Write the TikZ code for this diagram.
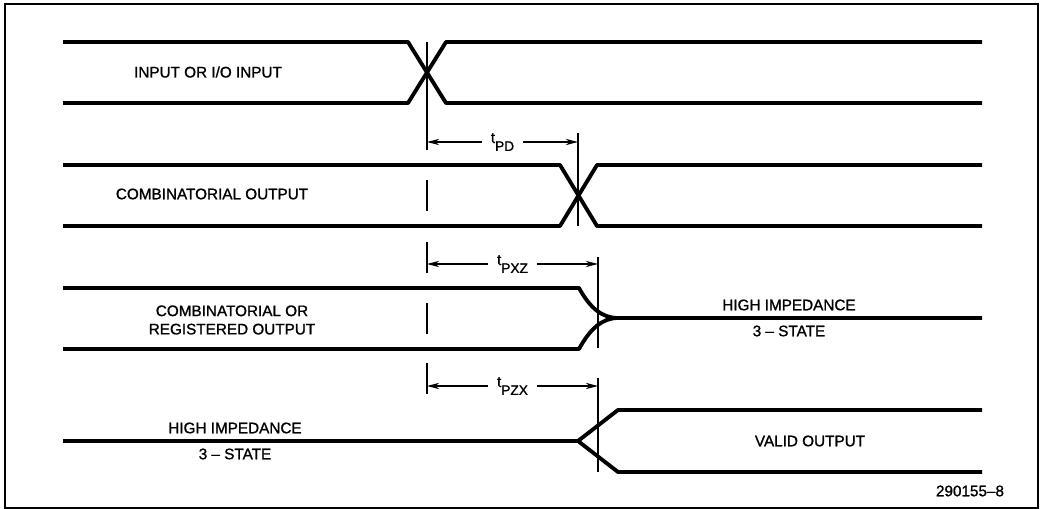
\documentclass[tikz,border=0pt]{standalone}
\usepackage{fontspec}
\setmainfont{Liberation Sans}
\newfontfamily\lblfont{Liberation Sans}[FakeBold=1.2, Ligatures=TeX]
\usetikzlibrary{arrows.meta}

\tikzset{
  sig/.style={line width=2.2pt, line join=round},
  mark line/.style={line width=0.8pt},
  dim/.style={line width=0.6pt, {Stealth[length=7pt,width=3.6pt]}-{Stealth[length=7pt,width=3.6pt]}},
  lbl/.style={font=\lblfont\fontsize{8.7}{10.4}\selectfont, inner sep=1pt, align=center},
  dimlbl/.style={lbl, fill=white, inner xsep=5pt},
}
\newcommand{\tsub}[1]{t\raisebox{-4.5pt}{\fontsize{7.8}{9}\selectfont #1}}

\begin{document}
\begin{tikzpicture}[x=0.02cm, y=-0.02cm]
  % 0. Frame, fixes the size of the page
  \useasboundingbox (0,0) rectangle (1046,509);
  \draw[line width=0.6pt] (5,4) rectangle (1038,508);

  % 1. Input or I/O input
  \draw[sig] (63,42) -- (408,42) -- (446,103) -- (982,103);
  \draw[sig] (63,103) -- (408,103) -- (446,42) -- (982,42);
  \node[lbl] (inp) at (208,72) {INPUT OR I/O INPUT};

  % 2. Combinatorial output
  \draw[sig] (63,165) -- (560,165) -- (597,226) -- (982,226);
  \draw[sig] (63,226) -- (560,226) -- (597,165) -- (982,165);
  \node[lbl] (comb) at (212,194) {COMBINATORIAL OUTPUT};

  % 3. Output going to high impedance
  \draw[sig] (63,288) -- (579,288) .. controls (590,308) and (602,318) .. (618,318) -- (982,318);
  \draw[sig] (63,349) -- (579,349) .. controls (590,329) and (602,318) .. (618,318);
  \node[lbl] (reg) at (232,320) {COMBINATORIAL OR\\REGISTERED OUTPUT};
  \node[lbl] (hiz) at (789,305) {HIGH IMPEDANCE};
  \node[lbl] (hizs) at (789,331) {3 -- STATE};

  % 4. High impedance going to valid output
  \draw[sig] (63,441) -- (578,441) -- (618,410) -- (982,410);
  \draw[sig] (578,441) -- (618,472) -- (982,472);
  \node[lbl] (hiz2) at (235,428) {HIGH IMPEDANCE};
  \node[lbl] (hiz2s) at (235,454) {3 -- STATE};
  \node[lbl] (valid) at (810,441) {VALID OUTPUT};

  % 5. Reference lines
  \draw[mark line] (427,42) -- (427,150);
  \foreach \ya in {180,242,303,363}
    \draw[mark line] (427,\ya) -- ++(0,31);
  \draw[mark line] (578,133) -- (578,226);
  \draw[mark line] (598,257) -- (598,348);
  \draw[mark line] (598,378) -- (598,472);

  % 6. Delay arrows
  \coordinate (pdA) at (427,142);  \coordinate (pdB) at (578,142);
  \coordinate (pxzA) at (427,264); \coordinate (pxzB) at (598,264);
  \coordinate (pzxA) at (427,386); \coordinate (pzxB) at (598,386);
  \draw[dim] (pdA) -- node[dimlbl] (tpd) {\tsub{PD}} (pdB);
  \draw[dim] (pxzA) -- node[dimlbl] (tpxz) {\tsub{PXZ}} (pxzB);
  \draw[dim] (pzxA) -- node[dimlbl] (tpzx) {\tsub{PZX}} (pzxB);

  \node[lbl] (fig) at (970,491) {290155--8};
\end{tikzpicture}
\end{document}
